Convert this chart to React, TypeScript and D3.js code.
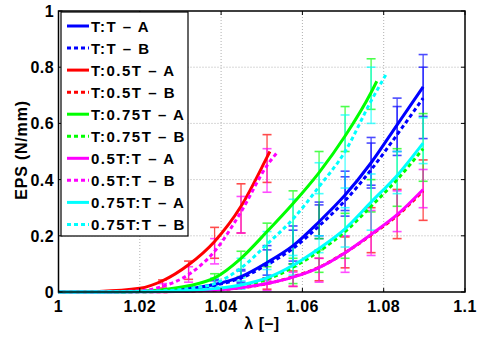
import React from 'react';
import * as d3 from 'd3';

// ---------- data ----------
const xTicks = [1, 1.02, 1.04, 1.06, 1.08, 1.1];
const xTickLabels = ['1', '1.02', '1.04', '1.06', '1.08', '1.1'];
const yTicks = [0, 0.2, 0.4, 0.6, 0.8, 1];
const yTickLabels = ['0', '0.2', '0.4', '0.6', '0.8', '1'];

// stretch values of the measurements (error bars)
const lambdaBars = [1.0256, 1.032, 1.0384, 1.0449, 1.0513, 1.0577, 1.0641, 1.0705, 1.0769, 1.0833, 1.0897];

// fitted curves
const lamLong = [1, 1.01, 1.02, 1.0256, 1.032, 1.0384, 1.0449, 1.0513, 1.0577, 1.0641, 1.0705, 1.0769, 1.0833, 1.0897];
const lamRed = [1, 1.01, 1.02, 1.0256, 1.032, 1.0384, 1.0449, 1.0513, 1.052];
const lamMagB = [1, 1.01, 1.02, 1.0256, 1.032, 1.0384, 1.0449, 1.0513, 1.054];
const lamGreen = [1, 1.01, 1.02, 1.0256, 1.032, 1.0384, 1.0449, 1.0513, 1.0577, 1.0641, 1.0705, 1.0769, 1.0783];
const lamCyanB = [1, 1.01, 1.02, 1.0256, 1.032, 1.0384, 1.0449, 1.0513, 1.0577, 1.0641, 1.0705, 1.0769, 1.0808];

const fitTT_A = [0, 0.0003, 0.002, 0.004, 0.012, 0.027, 0.055, 0.105, 0.165, 0.25, 0.345, 0.46, 0.595, 0.73];
const fitTT_B = [0, 0.0003, 0.002, 0.003, 0.01, 0.024, 0.05, 0.097, 0.155, 0.235, 0.325, 0.435, 0.56, 0.69];
const fitT05T_A = [0, 0.002, 0.013, 0.04, 0.097, 0.18, 0.305, 0.48, 0.5];
const fitT05T_B = [0, 0.0001, 0.0005, 0.001, 0.003, 0.007, 0.015, 0.03, 0.054, 0.088, 0.14, 0.203, 0.272, 0.36];
const fitT075T_A = [0, 0.0005, 0.003, 0.008, 0.022, 0.05, 0.12, 0.215, 0.315, 0.425, 0.555, 0.71, 0.75];
const fitT075T_B = [0, 0.0001, 0.0008, 0.002, 0.004, 0.01, 0.022, 0.045, 0.088, 0.145, 0.215, 0.305, 0.4, 0.51];
const fit05TT_A = [0, 0.0001, 0.0005, 0.001, 0.003, 0.007, 0.015, 0.03, 0.053, 0.087, 0.14, 0.205, 0.275, 0.365];
const fit05TT_B = [0, 0.0005, 0.004, 0.02, 0.062, 0.145, 0.285, 0.45, 0.5];
const fit075TT_A = [0, 0.0001, 0.001, 0.002, 0.005, 0.012, 0.025, 0.05, 0.095, 0.155, 0.225, 0.32, 0.415, 0.53];
const fit075TT_B = [0, 0.0003, 0.002, 0.004, 0.012, 0.03, 0.085, 0.17, 0.26, 0.375, 0.5, 0.68, 0.78];

// error bars: low / high at lambdaBars (null = none)
const N = null;
const loTT_A = [N, 0.002, 0.012, 0.035, 0.06, 0.1, 0.19, 0.27, 0.38, 0.5, 0.625];
const hiTT_A = [N, 0.02, 0.045, 0.08, 0.165, 0.235, 0.32, 0.43, 0.55, 0.69, 0.845];
const loTT_B = [N, N, 0.008, 0.03, 0.05, 0.11, 0.2, 0.29, 0.37, 0.486, 0.546];
const hiTT_B = [N, N, 0.04, 0.075, 0.15, 0.22, 0.31, 0.41, 0.53, 0.66, 0.8];
const loT05T_A = [0.014, 0.045, 0.12, 0.21, 0.39, N, N, N, N, N, N];
const hiT05T_A = [0.043, 0.11, 0.23, 0.385, 0.56, N, N, N, N, N, N];
const loT05T_B = [N, N, N, N, 0.01, 0.02, 0.04, 0.086, 0.14, 0.19, 0.255];
const hiT05T_B = [N, N, N, N, 0.05, 0.075, 0.12, 0.196, 0.3, 0.365, 0.47];
const loT075T_A = [N, 0.005, 0.028, 0.055, 0.09, 0.12, 0.19, 0.5, 0.65, N, N];
const hiT075T_A = [N, 0.02, 0.065, 0.145, 0.245, 0.36, 0.5, 0.66, 0.83, N, N];
const loT075T_B = [N, N, N, N, N, 0.03, 0.07, 0.12, 0.285, 0.305, 0.394];
const hiT075T_B = [N, N, N, N, N, 0.1, 0.15, 0.28, 0.4, 0.51, 0.635];
const lo05TT_A = [N, N, N, N, 0.005, 0.02, 0.035, 0.07, 0.13, 0.215, 0.3];
const hi05TT_A = [N, N, N, N, 0.04, 0.07, 0.12, 0.2, 0.29, 0.36, 0.436];
const lo05TT_B = [0.005, 0.035, 0.1, 0.21, 0.355, N, N, N, N, N, N];
const hi05TT_B = [0.03, 0.09, 0.19, 0.34, 0.51, N, N, N, N, N, N];
const lo075TT_A = [N, N, N, 0.01, 0.03, 0.06, 0.14, 0.16, 0.22, 0.35, 0.457];
const hi075TT_A = [N, N, N, 0.04, 0.08, 0.13, 0.2, 0.3, 0.42, 0.5, 0.62];
const lo075TT_B = [N, N, 0.02, 0.05, 0.1, 0.09, 0.35, 0.37, 0.6, N, N];
const hi075TT_B = [N, N, 0.05, 0.12, 0.215, 0.33, 0.46, 0.63, 0.8, N, N];

const seriesNames = ['T:T \u2013 A', 'T:T \u2013 B', 'T:0.5T \u2013 A', 'T:0.5T \u2013 B', 'T:0.75T \u2013 A', 'T:0.75T \u2013 B', '0.5T:T \u2013 A', '0.5T:T \u2013 B', '0.75T:T \u2013 A', '0.75T:T \u2013 B'];
const seriesColors = ['#0000ff', '#0000ff', '#ff0000', '#ff0000', '#00ff00', '#00ff00', '#ff00ff', '#ff00ff', '#00ffff', '#00ffff'];
const seriesDotted = [false, true, false, true, false, true, false, true, false, true];
const seriesLam = [lamLong, lamLong, lamRed, lamLong, lamGreen, lamLong, lamLong, lamMagB, lamLong, lamCyanB];
const seriesFit = [fitTT_A, fitTT_B, fitT05T_A, fitT05T_B, fitT075T_A, fitT075T_B, fit05TT_A, fit05TT_B, fit075TT_A, fit075TT_B];
const seriesLo = [loTT_A, loTT_B, loT05T_A, loT05T_B, loT075T_A, loT075T_B, lo05TT_A, lo05TT_B, lo075TT_A, lo075TT_B];
const seriesHi = [hiTT_A, hiTT_B, hiT05T_A, hiT05T_B, hiT075T_A, hiT075T_B, hi05TT_A, hi05TT_B, hi075TT_A, hi075TT_B];

// ---------- layout ----------
const W = 477, H = 342;
const L = 58.5, R = 465, T = 11, B = 292;
const FONT = '"Liberation Sans", Arial, Helvetica, sans-serif';

export default function App() {
  const x = d3.scaleLinear().domain([1, 1.1]).range([L, R]);
  const y = d3.scaleLinear().domain([0, 1]).range([B, T]);
  const line = d3.line<[number, number]>().x(d => x(d[0])).y(d => y(d[1])).curve(d3.curveMonotoneX);

  const legX = 61, legY = 12, legW = 127, legH = 224;
  const rowY = (i: number) => 26 + i * 22.05;

  return (
    <svg width={W} height={H} style={{ position: 'absolute', left: 0, top: 0, background: '#fff' }} fontFamily={FONT}>
      <rect x={0} y={0} width={W} height={H} fill="#fff" />
      {/* grid */}
      {xTicks.slice(1, -1).map((t, i) => (
        <line key={'gx' + i} x1={x(t)} x2={x(t)} y1={T} y2={B} stroke="#b0b0b0" strokeWidth={1} strokeDasharray="1,2" />
      ))}
      {yTicks.slice(1, -1).map((t, i) => (
        <line key={'gy' + i} x1={L} x2={R} y1={y(t)} y2={y(t)} stroke="#b0b0b0" strokeWidth={1} strokeDasharray="1,2" />
      ))}
      {/* error bars */}
      {seriesLo.map((los, s) => (
        <g key={'eb' + s} stroke={seriesColors[s]} opacity={0.7}>
          {lambdaBars.map((lam, k) => {
            const lo = los[k], hi = seriesHi[s][k];
            if (lo === null || hi === null) return null;
            const cx = x(lam);
            return (
              <g key={k}>
                <line x1={cx} x2={cx} y1={y(lo)} y2={y(hi)} strokeWidth={1.3} />
                <line x1={cx - 4.5} x2={cx + 4.5} y1={y(lo)} y2={y(lo)} strokeWidth={1.6} />
                <line x1={cx - 4.5} x2={cx + 4.5} y1={y(hi)} y2={y(hi)} strokeWidth={1.6} />
              </g>
            );
          })}
        </g>
      ))}
      {/* fitted curves */}
      {seriesFit.map((vals, s) => (
        <path key={'c' + s}
          d={line(vals.map((v, i) => [seriesLam[s][i], v] as [number, number])) || ''}
          fill="none" stroke={seriesColors[s]} strokeWidth={3}
          strokeDasharray={seriesDotted[s] ? '4,3' : undefined} />
      ))}
      {/* axes frame */}
      <rect x={L} y={T} width={R - L} height={B - T} fill="none" stroke="#000" strokeWidth={1.5} />
      {xTicks.map((t, i) => (
        <g key={'xt' + i}>
          <line x1={x(t)} x2={x(t)} y1={B} y2={B - 4} stroke="#000" />
          <line x1={x(t)} x2={x(t)} y1={T} y2={T + 4} stroke="#000" />
          <text x={x(t)} y={312} textAnchor="middle" fontSize={16} fontWeight="bold" letterSpacing={0.4}>{xTickLabels[i]}</text>
        </g>
      ))}
      {yTicks.map((t, i) => (
        <g key={'yt' + i}>
          <line x1={L} x2={L + 4} y1={y(t)} y2={y(t)} stroke="#000" />
          <line x1={R} x2={R - 4} y1={y(t)} y2={y(t)} stroke="#000" />
          <text x={54} y={y(t) + 6} textAnchor="end" fontSize={16} fontWeight="bold" letterSpacing={0.4}>{yTickLabels[i]}</text>
        </g>
      ))}
      <text x={262} y={329} textAnchor="middle" fontSize={16} fontWeight="bold" letterSpacing={0.5}>λ [–]</text>
      <text transform="translate(27,150) rotate(-90)" textAnchor="middle" fontSize={16} fontWeight="bold" letterSpacing={0.8}>EPS (N/mm)</text>
      {/* legend */}
      <rect x={legX} y={legY} width={legW} height={legH} fill="#fff" stroke="#000" strokeWidth={1.2} />
      {seriesNames.map((name, i) => (
        <g key={'lg' + i}>
          <line x1={67} x2={89} y1={rowY(i)} y2={rowY(i)} stroke={seriesColors[i]} strokeWidth={3}
            strokeDasharray={seriesDotted[i] ? '4,3' : undefined} />
          <text x={91} y={rowY(i) + 5.5} fontSize={15} fontWeight="bold" letterSpacing={1.5}>{name}</text>
        </g>
      ))}
    </svg>
  );
}
